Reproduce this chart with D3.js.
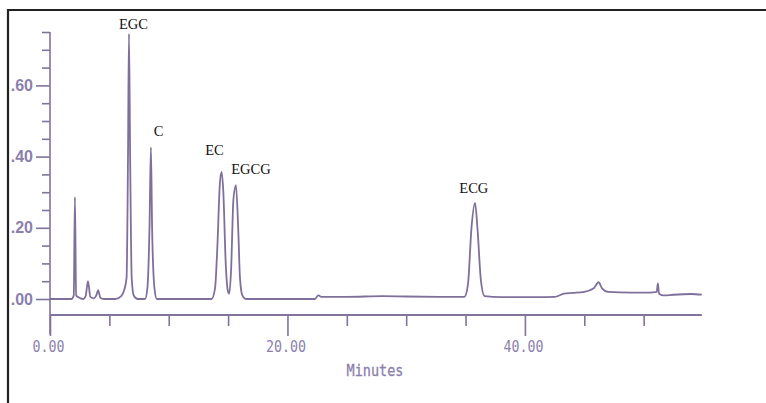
<!DOCTYPE html>
<html>
  <head>
    <meta charset="utf-8">
    <style>
      body { margin: 0; background: #fff; }
      .trace { fill: none; stroke: #7f709b; stroke-width: 1.8px; stroke-linejoin: round; }
      .axis path { display: none; }
      .axis line { stroke: #82739d; stroke-width: 1.6px; }
      .ylab text { font-family: "Liberation Sans", Arial, sans-serif; font-weight: bold; font-size: 16px; fill: #8b7fad; }
      .xlab text { font-family: "DejaVu Sans Mono", monospace; font-size: 16px; fill: #8b7fad; }
      .peak { font-family: "Liberation Serif", "Times New Roman", serif; font-size: 14.5px; fill: #111; }
    </style>
  </head>
  <body>
    <script src="https://d3js.org/d3.v7.min.js"></script>
    <script>
    var width = 766, height = 403;

    // trace: time (min) and absorbance (AU)
    var times = [0, 1.8, 2.0, 2.1, 2.2, 2.4, 2.8, 3.0, 3.2, 3.4, 3.7, 3.9, 4.05, 4.25, 4.6, 5.5, 6.0, 6.25,
      6.45, 6.57, 6.65, 6.75, 6.88, 7.05, 7.4, 8.0, 8.2, 8.38, 8.5, 8.6, 8.8, 9.0, 13.6, 13.9, 14.1, 14.3,
      14.45, 14.6, 14.8, 15.0, 15.1, 15.25, 15.45, 15.66, 15.85, 16.0, 16.2, 16.5, 22.3, 22.6, 22.9, 25,
      28, 30, 34, 34.9, 35.2, 35.5, 35.8, 36.0, 36.3, 36.6, 38, 41, 42.5, 43.3, 44, 45, 45.8, 46.2, 46.5,
      47, 49, 50.5, 51.1, 51.2, 51.3, 51.7, 52.5, 54, 54.9];
    var absorb = [0, 0, 0.01, 0.286, 0.01, 0.005, 0, 0.008, 0.05, 0.006, 0.002, 0.01, 0.025, 0.003, 0, 0, 0.008, 0.025,
      0.06, 0.4, 0.745, 0.4, 0.06, 0.01, 0, 0, 0.03, 0.2, 0.426, 0.2, 0.03, 0, 0, 0.03, 0.15, 0.32,
      0.357, 0.3, 0.1, 0.02, 0.015, 0.08, 0.28, 0.32, 0.2, 0.06, 0.01, 0, 0, 0.01, 0.006, 0.006,
      0.008, 0.007, 0.006, 0.006, 0.04, 0.2, 0.27, 0.2, 0.05, 0.008, 0.005, 0.005, 0.006, 0.015, 0.017, 0.02, 0.03, 0.047, 0.03,
      0.02, 0.018, 0.018, 0.02, 0.044, 0.015, 0.01, 0.012, 0.014, 0.012];

    var peakNames = ["EGC", "C", "EC", "EGCG", "ECG"];
    var peakTimes = [7.03, 9.14, 13.85, 16.93, 35.7];
    var peakLabelY = [0.758, 0.459, 0.405, 0.351, 0.298];

    var xMinor = [5, 10, 15, 25, 30, 35, 45, 50];
    var xMajor = [0, 20, 40];
    var yMinor = [0.05, 0.1, 0.15, 0.25, 0.3, 0.35, 0.45, 0.5, 0.55, 0.65, 0.7, 0.75];
    var yMajor = [0, 0.2, 0.4, 0.6];

    var svg = d3.select("body")
        .append("svg")
        .attr("width", width)
        .attr("height", height);

    var x = d3.scaleLinear().domain([0, 55]).range([50, 703]);
    var y = d3.scaleLinear().domain([0, 0.75]).range([299, 32]);
    var xAxisY = 315;

    // frame
    svg.append("path")
        .attr("d", "M8," + height + "V10H" + width)
        .attr("fill", "none")
        .attr("stroke", "#222")
        .attr("stroke-width", 2.2);

    // y axis
    svg.append("line")
        .attr("x1", x(0)).attr("x2", x(0))
        .attr("y1", y(0.75)).attr("y2", y(-0.1))
        .attr("stroke", "#82739d").attr("stroke-width", 1.6);

    svg.append("g").attr("class", "axis")
        .attr("transform", "translate(" + x(0) + ",0)")
        .call(d3.axisLeft(y).tickValues(yMinor).tickSize(8).tickFormat(""));

    svg.append("g").attr("class", "axis ylab")
        .attr("transform", "translate(" + x(0) + ",0)")
        .call(d3.axisLeft(y).tickValues(yMajor).tickSize(14).tickPadding(3)
          .tickFormat(function(d) { return d3.format(".2f")(d).replace(/^0/, ""); }));

    // x axis
    svg.append("line")
        .attr("x1", x(0)).attr("x2", x(54.9))
        .attr("y1", xAxisY).attr("y2", xAxisY)
        .attr("stroke", "#82739d").attr("stroke-width", 2);

    svg.append("g").attr("class", "axis")
        .attr("transform", "translate(0," + xAxisY + ")")
        .call(d3.axisBottom(x).tickValues(xMinor).tickSize(11).tickFormat(""));

    var xg = svg.append("g").attr("class", "axis xlab")
        .attr("transform", "translate(0," + xAxisY + ")")
        .call(d3.axisBottom(x).tickValues(xMajor).tickSize(21).tickPadding(5)
          .tickFormat(d3.format(".2f")));
    xg.selectAll("text")
        .attr("dx", "-2")
        .attr("textLength", function(d) { return d3.format(".2f")(d).length * 8; })
        .attr("lengthAdjust", "spacingAndGlyphs");

    svg.append("text")
        .attr("x", 375).attr("y", 376)
        .attr("text-anchor", "middle")
        .attr("textLength", 57)
        .attr("lengthAdjust", "spacingAndGlyphs")
        .style("font-family", "'DejaVu Sans Mono', monospace")
        .style("font-size", "15px")
        .style("fill", "#8b7fad")
        .style("stroke", "#8b7fad")
        .style("stroke-width", 0.3)
        .text("Minutes");

    // trace
    var pts = times.map(function(t, i) { return [t, absorb[i]]; });
    svg.append("path")
        .datum(pts)
        .attr("class", "trace")
        .attr("d", d3.line()
          .x(function(d) { return x(d[0]); })
          .y(function(d) { return y(d[1]); })
          .curve(d3.curveMonotoneX));

    // peak labels
    svg.selectAll(".peak")
        .data(peakNames)
        .enter().append("text")
          .attr("class", "peak")
          .attr("text-anchor", "middle")
          .attr("x", function(d, i) { return x(peakTimes[i]); })
          .attr("y", function(d, i) { return y(peakLabelY[i]); })
          .text(function(d) { return d; });
    </script>
  </body>
</html>
